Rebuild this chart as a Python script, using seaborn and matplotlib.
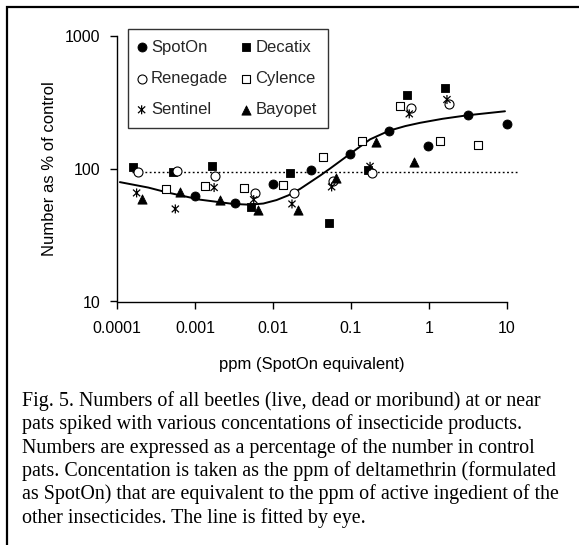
import matplotlib
matplotlib.use("Agg")
import matplotlib.pyplot as plt
from matplotlib.path import Path
from matplotlib.patches import Rectangle
import pandas as pd
import seaborn as sns

# values (ppm SpotOn equivalent, number as % of control)
spoton_x = [0.001, 0.00322, 0.00998, 0.031, 0.0973, 0.311, 0.985, 3.15, 10.0]
spoton_y = [61.8, 55.1, 76.7, 97.8, 129, 193, 147, 252, 217]

decatix_x = [0.00016, 0.000514, 0.00164, 0.00521, 0.0165, 0.0527, 0.167, 0.529, 1.61]
decatix_y = [103, 94.4, 105, 51.1, 92.8, 39.0, 98.3, 355, 401]

renegade_x = [0.000183, 0.00058, 0.00181, 0.00586, 0.0184, 0.0583, 0.185, 0.59, 1.82]
renegade_y = [94.4, 95.4, 87.6, 65.6, 65.6, 80.2, 92.8, 288, 304]

cylence_x = [0.00042, 0.00135, 0.00424, 0.0135, 0.0434, 0.137, 0.427, 1.39, 4.32]
cylence_y = [70.7, 74.5, 71.6, 75.4, 122, 162, 296, 162, 150]

sentinel_x = [0.000177, 0.000556, 0.00175, 0.00564, 0.0175, 0.0565, 0.176, 0.561, 1.71]
sentinel_y = [65.6, 49.7, 72.0, 58.4, 54.2, 72.8, 104, 258, 331]

bayopet_x = [0.000209, 0.000644, 0.0021, 0.00641, 0.0209, 0.0643, 0.208, 0.651]
bayopet_y = [59.2, 66.8, 57.7, 49.1, 48.8, 84.5, 158, 112]

# line fitted by eye
curve_x = [0.000108, 0.00025, 0.00043, 0.00115, 0.00309, 0.00505, 0.0075, 0.0111,
           0.0158, 0.0222, 0.0401, 0.0538, 0.073, 0.0973, 0.176, 0.311, 0.5,
           0.771, 1.5, 3.15, 9.5]
curve_y = [79.1, 72.0, 66.3, 58.4, 54.2, 53.5, 54.6, 58.0,
           63.0, 70.3, 88.5, 100, 114, 129, 166, 193, 209,
           221, 237, 252, 270]

control_x = [0.000154, 14.4]
control_y = [95, 95]

x_ticks = [0.0001, 0.001, 0.01, 0.1, 1, 10]
x_ticklabels = ["0.0001", "0.001", "0.01", "0.1", "1", "10"]
y_ticks = [10, 100, 1000]
y_ticklabels = ["10", "100", "1000"]

caption_lines = [
    "Fig. 5. Numbers of all beetles (live, dead or moribund) at or near",
    "pats spiked with various concentations of insecticide products.",
    "Numbers are expressed as a percentage of the number in control",
    "pats. Concentation is taken as the ppm of deltamethrin (formulated",
    "as SpotOn) that are equivalent to the ppm of active ingedient of the",
    "other insecticides. The line is fitted by eye.",
]

# Excel style "star": vertical bar plus an X
star = Path(
    [(0, -1), (0, 1), (-0.8, -0.75), (0.8, 0.75), (-0.8, 0.75), (0.8, -0.75)],
    [Path.MOVETO, Path.LINETO, Path.MOVETO, Path.LINETO, Path.MOVETO, Path.LINETO],
)

series = {
    "SpotOn": (spoton_x, spoton_y),
    "Decatix": (decatix_x, decatix_y),
    "Renegade": (renegade_x, renegade_y),
    "Cylence": (cylence_x, cylence_y),
    "Sentinel": (sentinel_x, sentinel_y),
    "Bayopet": (bayopet_x, bayopet_y),
}
df = pd.concat(
    [pd.DataFrame({"product": k, "ppm": v[0], "pct": v[1]}) for k, v in series.items()],
    ignore_index=True,
)

styles = {
    "SpotOn": dict(marker="o", s=42, facecolor="black", edgecolor="black", linewidth=0.6),
    "Decatix": dict(marker="s", s=32, facecolor="black", edgecolor="black", linewidth=0.6),
    "Renegade": dict(marker="o", s=42, facecolor="white", edgecolor="black", linewidth=0.8),
    "Cylence": dict(marker="s", s=32, facecolor="white", edgecolor="black", linewidth=0.8),
    "Sentinel": dict(marker=star, s=42, facecolor="none", edgecolor="black", linewidth=0.9),
    "Bayopet": dict(marker="^", s=44, facecolor="black", edgecolor="black", linewidth=0.6),
}

sns.set_theme(style="ticks")
plt.rcParams["font.family"] = ["Liberation Sans", "DejaVu Sans"]

W, H = 579, 545
fig = plt.figure(figsize=(W / 100, H / 100), dpi=100)
ax = fig.add_axes([117.3 / W, 1 - 301.5 / H, (506.7 - 117.3) / W, (301.5 - 35.7) / H])

# outer frame (only top and left edges fall inside the picture)
fig.patches.append(Rectangle((7 / W, -0.2), 2.0, 0.2 + 1 - 6.7 / H, transform=fig.transFigure,
                             fill=False, edgecolor="black", linewidth=1.6, zorder=0))

sns.lineplot(x=control_x, y=control_y, ax=ax, color="black", linewidth=1.0,
             linestyle=(0, (1.3, 1.8)), estimator=None, sort=False, clip_on=False)
sns.lineplot(x=curve_x, y=curve_y, ax=ax, color="black", linewidth=1.4,
             estimator=None, sort=False)

for name, st in styles.items():
    sub = df[df["product"] == name]
    sns.scatterplot(data=sub, x="ppm", y="pct", ax=ax, label=name, zorder=3,
                    clip_on=False, **st)

ax.set_xscale("log")
ax.set_yscale("log")
ax.set_xlim(1e-4, 10)
ax.set_ylim(10, 1000)
ax.set_xticks(x_ticks)
ax.set_xticklabels(x_ticklabels)
ax.set_yticks(y_ticks)
ax.set_yticklabels(y_ticklabels)
ax.minorticks_off()
ax.tick_params(axis="both", direction="out", length=5, width=1, color="black",
               labelsize=11.5, labelcolor="black")
ax.tick_params(axis="x", pad=9)
ax.tick_params(axis="y", pad=7)

for side in ["top", "right"]:
    ax.spines[side].set_visible(False)
for side in ["left", "bottom"]:
    ax.spines[side].set_color("black")
    ax.spines[side].set_linewidth(1.0)

ax.set_xlabel("ppm (SpotOn equivalent)", fontsize=12, color="black", labelpad=15)
ax.set_ylabel("Number as % of control", fontsize=12, color="black", labelpad=6)

h, l = ax.get_legend_handles_labels()
lookup = dict(zip(l, h))
order = ["SpotOn", "Renegade", "Sentinel", "Decatix", "Cylence", "Bayopet"]
leg = ax.legend([lookup[k] for k in order], order, ncol=2, loc="upper left",
                bbox_to_anchor=(128.3 / W, 1 - 29 / H), bbox_transform=fig.transFigure,
                borderaxespad=0, frameon=True, fancybox=False, edgecolor="black",
                fontsize=12, handlelength=0.3, handletextpad=0.4, columnspacing=0.95,
                labelspacing=0.97, borderpad=0.65)
leg.get_frame().set_linewidth(1.0)

fig.text(22 / W, 1 - 391 / H, "\n".join(caption_lines), ha="left", va="top",
         family=["Liberation Serif", "DejaVu Serif"], fontsize=14.4, linespacing=1.23,
         color="black")

fig.savefig("out.png", dpi=100, facecolor="white")
